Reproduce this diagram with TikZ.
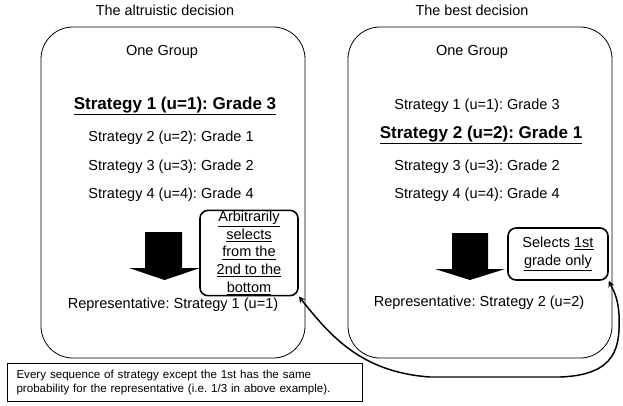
\documentclass[tikz,border=0pt]{standalone}
\usepackage{fontspec}
\setmainfont{Liberation Sans}
\usepackage{tikz}
\frenchspacing

\begin{document}
\begin{tikzpicture}[x=0.75pt,y=-0.75pt]
% Define common styles
\tikzset{
    group/.style={draw, rounded corners=24pt, line width=0.6pt},
    heading/.style={font=\fontsize{10.8}{13}\selectfont},
    item/.style={font=\fontsize{10.9}{13}\selectfont},
    chosen/.style={font=\fontsize{12.8}{15}\selectfont\bfseries},
    callout/.style={draw, rounded corners=6pt, line width=1.2pt, align=center, font=\fontsize{10.9}{13.2}\selectfont, inner sep=0pt},
    note/.style={draw, line width=0.5pt, align=left, font=\fontsize{8.7}{10.5}\selectfont, inner sep=0pt, text width=262pt},
    blockarrow/.style={fill=black},
    link/.style={<->, >=stealth, line width=1.1pt}
}
\useasboundingbox (0,0) rectangle (623,405);

% The altruistic decision (left side)
\node[heading] (titleL) at (165,10) {The altruistic decision};
\draw[group] (41,27) rectangle (305,358);
\node[item] (oneL) at (162,52) {One Group};
\node[chosen] (s1L) at (175,106) {\underline{Strategy 1 (u=1): Grade 3}};
\node[item] (s2L) at (171,138) {Strategy 2 (u=2): Grade 1};
\node[item] (s3L) at (171,167) {Strategy 3 (u=3): Grade 2};
\node[item] (s4L) at (171,195) {Strategy 4 (u=4): Grade 4};
\fill[blockarrow] (145,232) -- (182,232) -- (182,268) -- (200,268) -- (164.5,280)
    -- (129,268) -- (145,268) -- cycle;
\node[callout, minimum width=73.5pt, minimum height=64pt] (callL) at (249,253)
    {\underline{Arbitrarily}\\ \underline{selects}\\ \underline{from the}\\ \underline{2nd to the}\\ \underline{bottom}};
\node[item] (repL) at (173,305) {Representative: Strategy 1 (u=1)};

% The best decision (right side)
\node[heading] (titleR) at (472,10) {The best decision};
\draw[group] (348,27) rectangle (612,358);
\node[item] (oneR) at (472,52) {One Group};
\node[item] (s1R) at (477,106) {Strategy 1 (u=1): Grade 3};
\node[chosen] (s2R) at (481,135) {\underline{Strategy 2 (u=2): Grade 1}};
\node[item] (s3R) at (477,167) {Strategy 3 (u=3): Grade 2};
\node[item] (s4R) at (477,195) {Strategy 4 (u=4): Grade 4};
\fill[blockarrow] (452,233) -- (488,233) -- (488,269) -- (505,269) -- (470,280)
    -- (435,269) -- (452,269) -- cycle;
\node[callout, minimum width=75pt, minimum height=39pt] (callR) at (558,254)
    {Selects \underline{1st}\\ \underline{grade only}};
\node[item] (repR) at (479,303) {Representative: Strategy 2 (u=2)};

% Note and link between the callouts
\node[note, minimum width=266pt, minimum height=28.5pt] (noteBox) at (184.5,382)
    {\hspace*{5pt}Every sequence of strategy except the 1st has the same\\
     \hspace*{5pt}probability for the representative (i.e. 1/3 in above example).};
\draw[link] (callL.south east) .. controls (330,335) and (360,372) .. (430,377)
    -- (560,377) .. controls (618,375) and (620,345) .. (619,315)
    .. controls (618,296) and (612,288) .. (callR.south east);

\end{tikzpicture}
\end{document}
